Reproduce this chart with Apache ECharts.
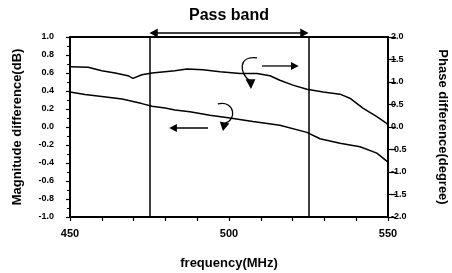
<!DOCTYPE html>
<html><head><meta charset="utf-8">
<script src="https://cdn.jsdelivr.net/npm/echarts@6/dist/echarts.min.js"></script>
<style>html,body{margin:0;padding:0;background:#fff}#c{width:452px;height:273px}</style>
</head><body><div id="c"></div>
<script>
// Data
const freqMag = [450, 454.7, 460, 466.4, 472.6, 475.8, 479.9, 483, 487.7, 494, 500.3, 507.5, 516, 524.5, 528.6, 534.9, 541.2, 546.5, 550];
const magVals = [0.39, 0.36, 0.34, 0.31, 0.26, 0.23, 0.21, 0.19, 0.17, 0.13, 0.10, 0.06, 0.02, -0.06, -0.13, -0.18, -0.22, -0.29, -0.39];
const freqPhase = [450, 455.7, 460, 464.2, 468.2, 469.8, 472.6, 475.8, 483, 486.8, 491.8, 497.2, 503.5, 508.8, 512.9, 516, 520.1, 524.5, 529.6, 534.9, 538, 542.1, 546.5, 550];
const phaseVals = [1.34, 1.33, 1.25, 1.2, 1.14, 1.08, 1.16, 1.2, 1.25, 1.29, 1.27, 1.23, 1.19, 1.19, 1.14, 1.04, 0.93, 0.84, 0.78, 0.73, 0.64, 0.42, 0.23, 0.06];
const passBand = [475, 525];
const xTickLabels = [450, 500, 550];
const bandLabel = 'Pass band';

const FONT = "'Liberation Sans', Arial, sans-serif";
const chart = echarts.init(document.getElementById('c'), null, {renderer: 'canvas'});
const black = '#000';

const option = {
  animation: false,
  backgroundColor: '#fff',
  grid: {left: 70, right: 64, top: 37, bottom: 56, show: false, outerBoundsMode: 'none', containLabel: false},
  xAxis: [{
    type: 'value', min: 450, max: 550, interval: 10, position: 'bottom',
    name: 'frequency(MHz)', nameLocation: 'middle', nameGap: 40,
    nameTextStyle: {fontFamily: FONT, fontSize: 13, fontWeight: 'bold', color: black},
    axisLine: {show: true, onZero: false, lineStyle: {color: black, width: 2}},
    axisTick: {show: true, inside: false, length: 4, lineStyle: {color: black, width: 1.2}},
    axisLabel: {margin: 11, fontFamily: FONT, fontSize: 11, fontWeight: 'bold', color: black,
      formatter: v => xTickLabels.indexOf(v) >= 0 ? String(v) : ''},
    splitLine: {show: false}
  }, {
    type: 'value', min: 450, max: 550, position: 'top',
    axisLine: {show: true, onZero: false, lineStyle: {color: black, width: 2}},
    axisTick: {show: false}, axisLabel: {show: false}, splitLine: {show: false}
  }],
  yAxis: [{
    type: 'value', min: -1, max: 1, interval: 0.2, position: 'left',
    name: 'Magnitude difference(dB)', nameLocation: 'middle', nameGap: 46, nameRotate: 90,
    nameTextStyle: {fontFamily: FONT, fontSize: 13, fontWeight: 'bold', color: black},
    axisLine: {show: true, onZero: false, lineStyle: {color: black, width: 2}},
    axisTick: {show: true, length: 4, lineStyle: {color: black, width: 1.2}},
    minorTick: {show: true, splitNumber: 2, length: 3, lineStyle: {color: black, width: 1}},
    axisLabel: {margin: 16, fontFamily: FONT, fontSize: 9, fontWeight: 'bold', color: black,
      formatter: v => v.toFixed(1)},
    splitLine: {show: false}
  }, {
    type: 'value', min: -2, max: 2, interval: 0.5, position: 'right',
    name: 'Phase difference(degree)', nameLocation: 'middle', nameGap: 48, nameRotate: -90,
    nameTextStyle: {fontFamily: FONT, fontSize: 13, fontWeight: 'bold', color: black},
    axisLine: {show: true, onZero: false, lineStyle: {color: black, width: 2}},
    axisTick: {show: true, length: 8, lineStyle: {color: black, width: 1.2}},
    axisLabel: {margin: 3, fontFamily: FONT, fontSize: 9, fontWeight: 'bold', color: black,
      formatter: v => v.toFixed(1)},
    splitLine: {show: false}
  }],
  series: [{
    type: 'line', xAxisIndex: 0, yAxisIndex: 0, symbol: 'none',
    data: freqMag.map((f, i) => [f, magVals[i]]),
    lineStyle: {color: black, width: 1.5},
    markLine: {
      silent: true, symbol: 'none', label: {show: false},
      lineStyle: {color: black, width: 1.5, type: 'solid'},
      data: passBand.map(f => ({xAxis: f}))
    }
  }, {
    type: 'line', xAxisIndex: 0, yAxisIndex: 1, symbol: 'none',
    data: freqPhase.map((f, i) => [f, phaseVals[i]]),
    lineStyle: {color: black, width: 1.5}
  }]
};
chart.setOption(option);

// Annotations (positions in data units of bottom x axis / left y axis)
const P = (f, m) => chart.convertToPixel({gridIndex: 0}, [f, m]);
const g = [];
function tri(a, b, c) {
  g.push({type: 'polygon', shape: {points: [P(...a), P(...b), P(...c)]}, style: {fill: black}, z: 10});
}
function seg(a, b, w) {
  const p1 = P(...a), p2 = P(...b);
  g.push({type: 'line', shape: {x1: p1[0], y1: p1[1], x2: p2[0], y2: p2[1]}, style: {stroke: black, lineWidth: w || 1.3}, z: 10});
}
function bez(a, c1, c2, b) {
  const p1 = P(...a), q1 = P(...c1), q2 = P(...c2), p2 = P(...b);
  g.push({type: 'bezierCurve', shape: {x1: p1[0], y1: p1[1], cpx1: q1[0], cpy1: q1[1], cpx2: q2[0], cpy2: q2[1], x2: p2[0], y2: p2[1]},
    style: {stroke: black, lineWidth: 1.3, fill: null}, z: 10});
}
// Upper curved arrow (phase -> right axis)
bez([508.8, 0.767], [503.0, 0.80], [503.0, 0.60], [506.6, 0.511]);
tri([505.2, 0.53], [508.3, 0.53], [506.9, 0.422]);
seg([510.4, 0.678], [519.8, 0.678]);
tri([519.5, 0.722], [519.5, 0.633], [521.9, 0.678]);
// Lower curved arrow (magnitude -> left axis)
bez([496.5, 0.256], [502.0, 0.30], [502.5, 0.07], [498.7, 0.044]);
tri([497.1, 0.06], [500.1, 0.04], [498.1, -0.044]);
seg([493.4, -0.011], [483.3, -0.011]);
tri([483.6, 0.033], [483.6, -0.056], [481.2, -0.011]);
// Pass band double arrow
const yTop = 1.045;
seg([passBand[0] + 1, yTop], [passBand[1] - 1, yTop], 1.6);
tri([passBand[0], yTop], [passBand[0] + 2.6, yTop + 0.05], [passBand[0] + 2.6, yTop - 0.05]);
tri([passBand[1], yTop], [passBand[1] - 2.6, yTop + 0.05], [passBand[1] - 2.6, yTop - 0.05]);
const mid = P((passBand[0] + passBand[1]) / 2, yTop);
g.push({type: 'text', x: mid[0], y: mid[1] - 9, style: {text: bandLabel, fill: black, font: 'bold 16px ' + FONT, textAlign: 'center', textVerticalAlign: 'bottom'}, z: 10});
chart.setOption({graphic: g});
</script></body></html>
